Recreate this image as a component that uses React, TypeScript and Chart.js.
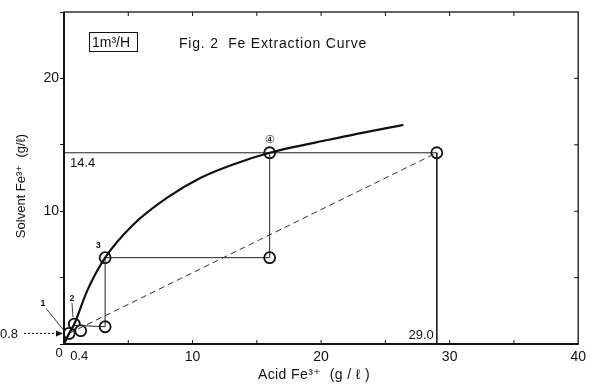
import React, { useEffect, useRef } from "react";
import { Chart, registerables } from "chart.js";

Chart.register(...registerables);

// Equilibrium (extraction) curve
const curveX = [0, 0.4, 0.8, 1.8, 3.2, 5.4, 8.0, 10.6, 13.1, 16.0, 20.7, 26.4];
const curveY = [0, 0.8, 1.5, 4.0, 6.5, 9.0, 11.0, 12.5, 13.5, 14.4, 15.4, 16.5];

// Operating line (dashed)
const opX = [0.4, 29.0];
const opY = [0.8, 14.4];

// Stage points (circles)
const pointX = [0.4, 0.8, 1.3, 3.2, 3.2, 16.0, 16.0, 29.0];
const pointY = [0.8, 1.5, 1.0, 1.3, 6.5, 6.5, 14.4, 14.4];

// Thin construction segments: [x1, y1, x2, y2]
const stepSegX1 = [3.2, 3.2, 16.0, 0, 29.0, 0.8];
const stepSegY1 = [1.3, 6.5, 6.5, 14.4, 14.4, 1.4];
const stepSegX2 = [3.2, 16.0, 16.0, 29.0, 29.0, 3.2];
const stepSegY2 = [6.5, 6.5, 14.4, 14.4, 0, 1.3];

// Axis tick labels
const xTickLabels = [10, 20, 30, 40];
const yTickLabels = [10, 20];

// Stage labels
const stageNames = ["1", "2", "3", "④"];

const FONT = "'Liberation Sans', 'DejaVu Sans', sans-serif";
const INK = "#111";

export default function App() {
  const ref = useRef<HTMLCanvasElement | null>(null);

  useEffect(() => {
    const canvas = ref.current;
    if (!canvas) return;

    const segDatasets = stepSegX1.map((_, i) => ({
      type: "line" as const,
      data: [
        { x: stepSegX1[i], y: stepSegY1[i] },
        { x: stepSegX2[i], y: stepSegY2[i] },
      ],
      borderColor: "#222",
      borderWidth: 1,
      pointRadius: 0,
      fill: false,
      tension: 0,
    }));

    const decor = {
      id: "decor",
      afterDraw(chart: any) {
        const { ctx, chartArea: a, scales } = chart;
        const xs = scales.x;
        const ys = scales.y;
        const px = (v: number) => xs.getPixelForValue(v);
        const py = (v: number) => ys.getPixelForValue(v);
        ctx.save();
        // frame
        ctx.strokeStyle = INK;
        ctx.lineWidth = 1.3;
        ctx.strokeRect(a.left, a.top, a.right - a.left, a.bottom - a.top);
        ctx.lineWidth = 2;
        ctx.beginPath();
        ctx.moveTo(a.left, a.top);
        ctx.lineTo(a.left, a.bottom);
        ctx.lineTo(a.right, a.bottom);
        ctx.stroke();
        // inward ticks top/bottom/right
        ctx.lineWidth = 1;
        for (let v = 5; v < 40; v += 5) {
          ctx.beginPath();
          ctx.moveTo(px(v), a.top);
          ctx.lineTo(px(v), a.top + 4);
          ctx.moveTo(px(v), a.bottom);
          ctx.lineTo(px(v), a.bottom - 4);
          ctx.stroke();
        }
        for (let v = 5; v < 25; v += 5) {
          ctx.beginPath();
          ctx.moveTo(a.right, py(v));
          ctx.lineTo(a.right - 4, py(v));
          ctx.stroke();
        }

        ctx.fillStyle = INK;
        ctx.font = `13px ${FONT}`;
        ctx.textBaseline = "middle";
        // origin labels
        ctx.textAlign = "center";
        ctx.fillText("0", a.left - 5, a.bottom + 9);
        ctx.textAlign = "left";
        ctx.fillText("0.4", px(0.4) + 1, a.bottom + 12);
        ctx.fillText("0.8", 0, py(0.8) + 1);
        ctx.fillText("14.4", a.left + 6, py(14.4) + 11);
        ctx.textAlign = "right";
        ctx.fillText("29.0", px(29.0) - 3, a.bottom - 9);

        // arrow for 0.8
        ctx.setLineDash([2, 2]);
        ctx.lineWidth = 1;
        ctx.beginPath();
        ctx.moveTo(24, py(0.8));
        ctx.lineTo(a.left - 6, py(0.8));
        ctx.stroke();
        ctx.setLineDash([]);
        ctx.beginPath();
        ctx.moveTo(a.left - 1, py(0.8));
        ctx.lineTo(a.left - 8, py(0.8) - 3);
        ctx.lineTo(a.left - 8, py(0.8) + 3);
        ctx.closePath();
        ctx.fill();

        // stage labels with leaders
        ctx.font = `bold 9px ${FONT}`;
        ctx.textAlign = "center";
        ctx.fillText(stageNames[0], 43, py(0.8) - 30);
        ctx.fillText(stageNames[1], 72, py(1.5) - 26);
        ctx.fillText(stageNames[2], px(3.2) - 7, py(6.5) - 12);
        ctx.font = `11px ${FONT}`;
        ctx.fillText(stageNames[3], px(16), py(14.4) - 13);
        ctx.lineWidth = 0.8;
        ctx.beginPath();
        ctx.moveTo(46, py(0.8) - 25);
        ctx.lineTo(a.left - 1, py(0.8) - 4);
        ctx.moveTo(72, py(1.5) - 21);
        ctx.lineTo(73, py(1.5) - 7);
        ctx.stroke();

        // title + box
        ctx.font = `14px ${FONT}`;
        ctx.textAlign = "left";
        (ctx as any).letterSpacing = "0.8px";
        ctx.fillText("Fig. 2  Fe Extraction Curve", 179, 44);
        (ctx as any).letterSpacing = "0px";
        ctx.font = `14px ${FONT}`;
        ctx.fillText("1m³/H", 92, 43);
        ctx.lineWidth = 1;
        ctx.strokeRect(89.5, 32.5, 48, 19);

        // axis titles
        ctx.font = `14px ${FONT}`;
        ctx.textAlign = "center";
        (ctx as any).letterSpacing = "0.4px";
        ctx.fillText("Acid Fe³⁺  (g / ℓ )", 314, 375);
        (ctx as any).letterSpacing = "0px";
        ctx.font = `13px ${FONT}`;
        ctx.save();
        ctx.translate(21, 186);
        ctx.rotate(-Math.PI / 2);
        ctx.fillText("Solvent Fe³⁺  (g/ℓ)", 0, 0);
        ctx.restore();

        ctx.restore();
      },
    };

    const chart = new Chart(canvas, {
      type: "scatter",
      data: {
        datasets: [
          {
            type: "line",
            data: curveX.map((x, i) => ({ x, y: curveY[i] })),
            borderColor: INK,
            borderWidth: 2.2,
            pointRadius: 0,
            fill: false,
            cubicInterpolationMode: "monotone",
          },
          {
            type: "line",
            data: opX.map((x, i) => ({ x, y: opY[i] })),
            borderColor: "#333",
            borderWidth: 1,
            borderDash: [6, 4],
            pointRadius: 0,
            fill: false,
          },
          ...segDatasets,
          {
            type: "scatter",
            data: pointX.map((x, i) => ({ x, y: pointY[i] })),
            backgroundColor: "#fff",
            borderColor: INK,
            borderWidth: 1.8,
            pointRadius: 5.5,
          },
        ] as any,
      },
      options: {
        responsive: false,
        animation: false,
        layout: { padding: { top: 12, right: 12, left: 0, bottom: 0 } },
        plugins: {
          legend: { display: false },
          tooltip: { enabled: false },
          title: { display: false },
        },
        scales: {
          x: {
            type: "linear",
            min: 0,
            max: 40,
            position: "bottom",
            afterFit: (s: any) => {
              s.height = 41;
            },
            border: { display: false },
            grid: { display: true, drawOnChartArea: false, drawTicks: false },
            ticks: {
              stepSize: 5,
              autoSkip: false,
              maxRotation: 0,
              padding: 5,
              color: INK,
              font: { family: FONT, size: 14 },
              callback: (v: any) => (xTickLabels.includes(Number(v)) ? String(v) : ""),
            },
          },
          y: {
            type: "linear",
            min: 0,
            max: 25,
            afterFit: (s: any) => {
              s.width = 64;
            },
            border: { display: false },
            grid: {
              display: true,
              drawOnChartArea: false,
              drawTicks: true,
              tickLength: 4,
              color: INK,
            },
            ticks: {
              stepSize: 5,
              autoSkip: false,
              padding: 1,
              color: INK,
              font: { family: FONT, size: 14 },
              callback: (v: any) => (yTickLabels.includes(Number(v)) ? String(v) : ""),
            },
          },
        },
      } as any,
      plugins: [decor],
    });

    return () => chart.destroy();
  }, []);

  return (
    <div
      style={{
        position: "fixed",
        left: 0,
        top: 0,
        width: 591,
        height: 385,
        background: "#fff",
      }}
    >
      <canvas ref={ref} width={591} height={385} />
    </div>
  );
}
